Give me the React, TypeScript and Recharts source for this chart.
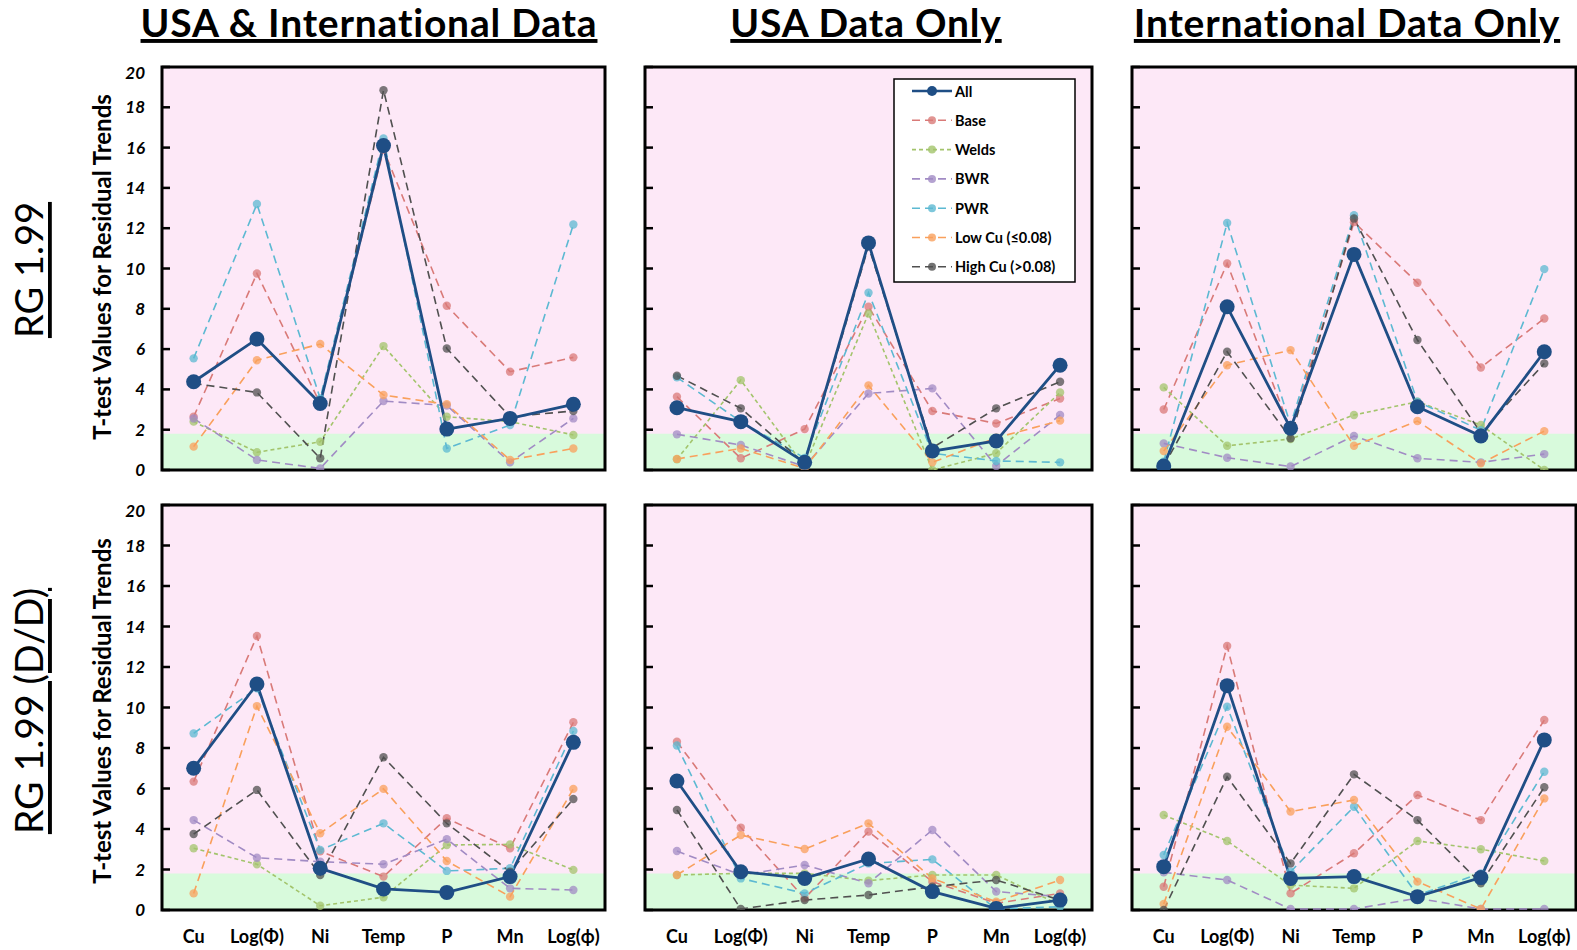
import React from 'react';
import { LineChart, Line, XAxis, YAxis, ReferenceArea, ReferenceLine } from 'recharts';

const categories = ['Cu', 'Log(Φ)', 'Ni', 'Temp', 'P', 'Mn', 'Log(ϕ)'];
const seriesNames = ['All', 'Base', 'Welds', 'BWR', 'PWR', 'Low Cu (≤0.08)', 'High Cu (>0.08)'];
const yTicks = [0, 2, 4, 6, 8, 10, 12, 14, 16, 18, 20];
const xTicks = [0, 1, 2, 3, 4, 5, 6];

// rows: All, Base, Welds, BWR, PWR, Low Cu, High Cu
const rgBoth = [
  [4.38, 6.5, 3.3, 16.1, 2.03, 2.56, 3.26],
  [2.64, 9.75, 3.3, 15.9, 8.15, 4.88, 5.59],
  [2.4, 0.88, 1.4, 6.15, 2.64, 2.4, 1.74],
  [2.56, 0.5, 0.08, 3.42, 3.2, 0.38, 2.56],
  [5.54, 13.2, 3.55, 16.45, 1.07, 2.23, 12.18],
  [1.16, 5.45, 6.25, 3.72, 3.26, 0.5, 1.07],
  [4.3, 3.85, 0.58, 18.85, 6.03, 2.64, 2.93],
];
const rgUsa = [
  [3.09, 2.4, 0.38, 11.27, 0.94, 1.44, 5.2],
  [3.64, 0.58, 2.03, 8.1, 2.93, 2.31, 3.55],
  [0.53, 4.46, 0.17, 7.77, 0.0, 0.83, 3.85],
  [1.77, 1.24, 0.17, 3.8, 4.05, 0.2, 2.73],
  [4.6, 2.4, 0.6, 8.8, 0.83, 0.45, 0.38],
  [0.55, 1.07, 0.08, 4.2, 0.38, 1.6, 2.45],
  [4.68, 3.06, 0.33, 11.1, 1.1, 3.06, 4.38],
];
const rgIntl = [
  [0.2, 8.1, 2.07, 10.7, 3.14, 1.69, 5.87],
  [3.0, 10.25, 1.98, 12.3, 9.29, 5.09, 7.52],
  [4.1, 1.2, 1.54, 2.73, 3.39, 2.23, 0.0],
  [1.32, 0.61, 0.17, 1.69, 0.58, 0.38, 0.79],
  [0.41, 12.26, 2.23, 12.64, 3.39, 1.98, 9.97],
  [0.94, 5.2, 5.95, 1.2, 2.43, 0.33, 1.93],
  [0.2, 5.87, 1.57, 12.48, 6.45, 1.85, 5.29],
];
const ddBoth = [
  [7.0, 11.16, 2.06, 1.04, 0.87, 1.65, 8.28],
  [6.34, 13.53, 2.9, 1.65, 4.53, 3.05, 9.27],
  [3.05, 2.26, 0.21, 0.63, 3.21, 3.24, 1.98],
  [4.44, 2.58, 2.39, 2.26, 3.5, 1.07, 0.99],
  [8.72, 10.95, 2.96, 4.28, 1.93, 2.06, 8.84],
  [0.82, 10.07, 3.79, 5.98, 2.42, 0.66, 5.98],
  [3.75, 5.93, 1.73, 7.54, 4.28, 1.89, 5.48],
];
const ddUsa = [
  [6.37, 1.89, 1.56, 2.52, 0.91, 0.08, 0.49],
  [8.31, 4.07, 0.58, 3.87, 1.4, 0.33, 0.82],
  [1.73, 1.81, 1.81, 1.45, 1.73, 1.73, 0.25],
  [2.91, 1.73, 2.22, 1.32, 3.95, 0.91, 0.66],
  [8.12, 1.56, 0.82, 2.3, 2.5, 0.05, 0.16],
  [1.73, 3.7, 3.01, 4.28, 1.56, 0.41, 1.48],
  [4.94, 0.05, 0.49, 0.74, 1.15, 1.48, 0.49],
];
const ddIntl = [
  [2.14, 11.08, 1.56, 1.65, 0.66, 1.6, 8.4],
  [1.15, 13.04, 0.82, 2.8, 5.68, 4.44, 9.38],
  [4.69, 3.41, 1.23, 1.07, 3.41, 3.0, 2.42],
  [1.86, 1.48, 0.05, 0.05, 0.58, 0.05, 0.05],
  [2.72, 10.04, 1.89, 5.1, 0.74, 1.81, 6.83],
  [0.3, 9.05, 4.86, 5.43, 1.4, 0.05, 5.51],
  [0.0, 6.58, 2.3, 6.7, 4.44, 1.32, 6.06],
];

const FONT = 'Lato, "Open Sans", sans-serif';
const PINK = '#fde8f7';
const GREEN = '#d8fadc';
const colors = ['#1f4e85', '#d97a78', '#a3c46c', '#a18bc4', '#5cb9d2', '#f9a05c', '#505050'];
const dashes = ['', '8 5', '4 3', '8 5', '8 5', '8 5', '8 5'];

const toRows = (values: number[][]) =>
  categories.map((cat, i) => {
    const row: any = { idx: i, cat };
    values.forEach((s, k) => (row['s' + k] = s[i]));
    return row;
  });

function Panel({ values, x, y, w, h, showY, showX }: any) {
  const topM = 4, rightM = 4, yW = 50, xH = 45;
  const data = toRows(values);
  const order = [1, 2, 3, 4, 5, 6, 0];
  // inward tick length, in x-axis units (8px)
  const tickLen = (8 * 7) / w;
  return (
    <div style={{ position: 'absolute', left: x - yW, top: y - topM }}>
      <LineChart width={yW + w + rightM} height={topM + h + xH} data={data}
        margin={{ top: topM, right: rightM, left: 0, bottom: 0 }}>
        <XAxis type="number" dataKey="idx" domain={[-0.5, 6.5]} ticks={xTicks} allowDataOverflow
          tickFormatter={(v: number) => categories[v]} height={xH} axisLine={false} tickLine={false}
          interval={0} tickSize={0} tickMargin={20}
          tick={showX ? { fill: '#000', fontSize: 18, fontWeight: 700, fontFamily: FONT } : false} />
        <YAxis width={yW} domain={[0, 20]} ticks={yTicks} allowDataOverflow axisLine={false}
          tickSize={0} tickMargin={17} tickLine={false}
          tick={showY ? { fill: '#000', fontSize: 17, fontWeight: 700, fontStyle: 'italic', fontFamily: FONT } : false} />
        <ReferenceArea y1={0} y2={20} fill={PINK} fillOpacity={1} stroke="none" />
        <ReferenceArea y1={0} y2={1.8} fill={GREEN} fillOpacity={1} stroke="none" />
        {yTicks.map((t) => (
          <ReferenceLine key={'t' + t} segment={[{ x: -0.5, y: t }, { x: -0.5 + tickLen, y: t }]}
            stroke="#000" strokeWidth={2.5} ifOverflow="visible" />
        ))}
        {order.map((k) => (
          <Line key={k} dataKey={'s' + k} name={seriesNames[k]} isAnimationActive={false}
            stroke={colors[k]} strokeWidth={k === 0 ? 2.8 : 1.6}
            strokeDasharray={dashes[k] || undefined}
            dot={k === 0 ? { r: 7.5, fill: colors[0], stroke: 'none' } : { r: 4.2, fill: colors[k], stroke: 'none', fillOpacity: 0.75 }}
            activeDot={false} />
        ))}
        <ReferenceArea y1={0} y2={20} fill="none" stroke="#000" strokeWidth={3} />
      </LineChart>
    </div>
  );
}

function LegendBox() {
  return (
    <svg style={{ position: 'absolute', left: 893, top: 78 }} width={184} height={206}>
      <rect x={1} y={1} width={181} height={203} fill="#fff" stroke="#000" strokeWidth={1.5} />
      {seriesNames.map((n, k) => {
        const cy = 13 + k * 29.3;
        return (
          <g key={n}>
            <line x1={19} x2={59} y1={cy} y2={cy} stroke={colors[k]} strokeWidth={k === 0 ? 2.5 : 1.6}
              strokeDasharray={dashes[k] || undefined} />
            <circle cx={39} cy={cy} r={k === 0 ? 5 : 4} fill={colors[k]} fillOpacity={k === 0 ? 1 : 0.8} />
            <text x={62} y={cy} dominantBaseline="central" fontSize={14.5} fontWeight={700} fontFamily={FONT} fill="#000">{n}</text>
          </g>
        );
      })}
    </svg>
  );
}

const cols = [[162, 605], [645, 1092], [1132, 1576]];
const rowsY = [[67, 470], [505, 910]];
const panels = [
  [rgBoth, rgUsa, rgIntl],
  [ddBoth, ddUsa, ddIntl],
];
const colTitles = ['USA & International Data', 'USA Data Only', 'International Data Only'];
const titleX = [369, 866, 1347];
const rowTitles = ['RG 1.99', 'RG 1.99 (D/D)'];

export default function App() {
  return (
    <div style={{ position: 'relative', width: 1577, height: 950, overflow: 'hidden', background: '#fff', fontFamily: FONT }}>
      <style>{'body{margin:0}'}</style>
      <svg style={{ position: 'absolute', left: 0, top: 0 }} width={1577} height={950}>
        {colTitles.map((t, i) => (
          <text key={t} x={titleX[i]} y={37} textAnchor="middle" fontSize={39} fontWeight={700}
            letterSpacing={0.8} fontFamily={FONT} style={{ textDecoration: 'underline' }}>{t}</text>
        ))}
        {rowTitles.map((t, r) => {
          const cy = r === 0 ? 270 : 711;
          return (
            <g key={t}>
              <text transform={`translate(28,${cy}) rotate(-90)`} textAnchor="middle" dominantBaseline="central"
                fontSize={r === 0 ? 38 : 39} fontFamily={FONT} style={{ textDecoration: 'underline' }}>{t}</text>
              <text transform={`translate(101,${r === 0 ? 267 : 711}) rotate(-90)`} textAnchor="middle"
                dominantBaseline="central" fontSize={24} fontWeight={700} fontFamily={FONT}>
                T-test Values for Residual Trends
              </text>
            </g>
          );
        })}
      </svg>
      {panels.map((row, r) =>
        row.map((vals, c) => (
          <Panel key={r + '-' + c} values={vals} x={cols[c][0]} y={rowsY[r][0]}
            w={cols[c][1] - cols[c][0]} h={rowsY[r][1] - rowsY[r][0]}
            showY={c === 0} showX={r === 1} />
        ))
      )}
      <LegendBox />
    </div>
  );
}
